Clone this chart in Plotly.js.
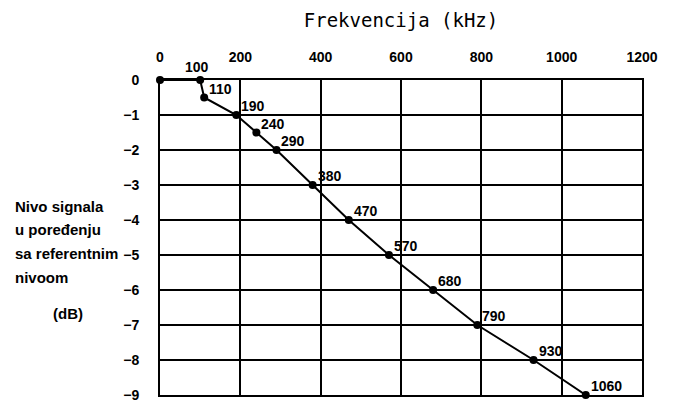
<!DOCTYPE html>
<html>
<head>
<meta charset="utf-8">
<script src="https://cdn.plot.ly/plotly-3.0.1.min.js"></script>
<style>html,body{margin:0;padding:0;background:#fff;}#chart{width:674px;height:403px;}</style>
</head>
<body>
<div id="chart"></div>
<script>
const frequencies = [0, 100, 110, 190, 240, 290, 380, 470, 570, 680, 790, 930, 1060];
const levels = [0, 0, -0.5, -1, -1.5, -2, -3, -4, -5, -6, -7, -8, -9];
const pointLabels = ['', '100', '110', '190', '240', '290', '380', '470', '570', '680', '790', '930', '1060'];
const xTicks = [0, 200, 400, 600, 800, 1000, 1200];
const yTicks = [0, -1, -2, -3, -4, -5, -6, -7, -8, -9];
const yTickText = ['0', '\u22121', '\u22122', '\u22123', '\u22124', '\u22125', '\u22126', '\u22127', '\u22128', '\u22129'];
const yTitleLines = ['Nivo signala', 'u poređenju', 'sa referentnim', 'nivoom'];
const yUnit = '(dB)';

const tickFont = {family: 'Liberation Sans, Arial, sans-serif', size: 14, color: '#000', weight: 'bold'};
const labelFont = {family: 'Liberation Sans, Arial, sans-serif', size: 14, color: '#000', weight: 'bold'};
const sideFont = {family: 'Liberation Sans, Arial, sans-serif', size: 15, color: '#000', weight: 'bold'};

const trace = {
  x: frequencies, y: levels,
  mode: 'lines+markers',
  line: {color: '#000', width: 2},
  marker: {color: '#000', size: 8},
  cliponaxis: false,
  hoverinfo: 'skip'
};

const annotations = [];
pointLabels.forEach((t, i) => {
  if (!t) return;
  const first = i === 1;
  annotations.push({
    x: frequencies[i], y: levels[i], xref: 'x', yref: 'y', text: t, showarrow: false,
    xanchor: first ? 'center' : 'left', yanchor: 'bottom',
    xshift: first ? -3 : 3, yshift: first ? 3 : -1,
    font: labelFont
  });
});
const pxW = 482, pxH = 315;
yTitleLines.forEach((t, i) => {
  annotations.push({
    xref: 'paper', yref: 'paper', x: (13 - 160) / pxW, y: (395 - (206 + 23.7 * i)) / pxH,
    xanchor: 'left', yanchor: 'middle', showarrow: false, text: t, font: sideFont
  });
});
annotations.push({
  xref: 'paper', yref: 'paper', x: (68 - 160) / pxW, y: (395 - 313) / pxH,
  xanchor: 'center', yanchor: 'middle', showarrow: false, text: yUnit, font: sideFont
});

const layout = {
  width: 674, height: 403,
  margin: {l: 160, r: 32, t: 80, b: 8},
  paper_bgcolor: '#fff', plot_bgcolor: '#fff',
  showlegend: false,
  xaxis: {
    side: 'top', range: [0, 1200], tickvals: xTicks, ticktext: xTicks.map(String),
    showgrid: true, gridcolor: '#000', gridwidth: 2,
    showline: true, linecolor: '#000', linewidth: 2, mirror: true,
    zeroline: false, ticks: '', tickfont: tickFont, ticklabelstandoff: 10,
    title: {text: 'Frekvencija (kHz)', font: {family: 'DejaVu Sans Mono, monospace', size: 19, color: '#000'}, standoff: 17}
  },
  yaxis: {
    range: [-9, 0], tickvals: yTicks, ticktext: yTickText,
    showgrid: true, gridcolor: '#000', gridwidth: 2,
    showline: true, linecolor: '#000', linewidth: 2, mirror: true,
    zeroline: false, ticks: '', tickfont: tickFont, ticklabelstandoff: 16
  },
  annotations: annotations
};
Plotly.newPlot('chart', [trace], layout, {displayModeBar: false, staticPlot: true});
</script>
</body>
</html>
